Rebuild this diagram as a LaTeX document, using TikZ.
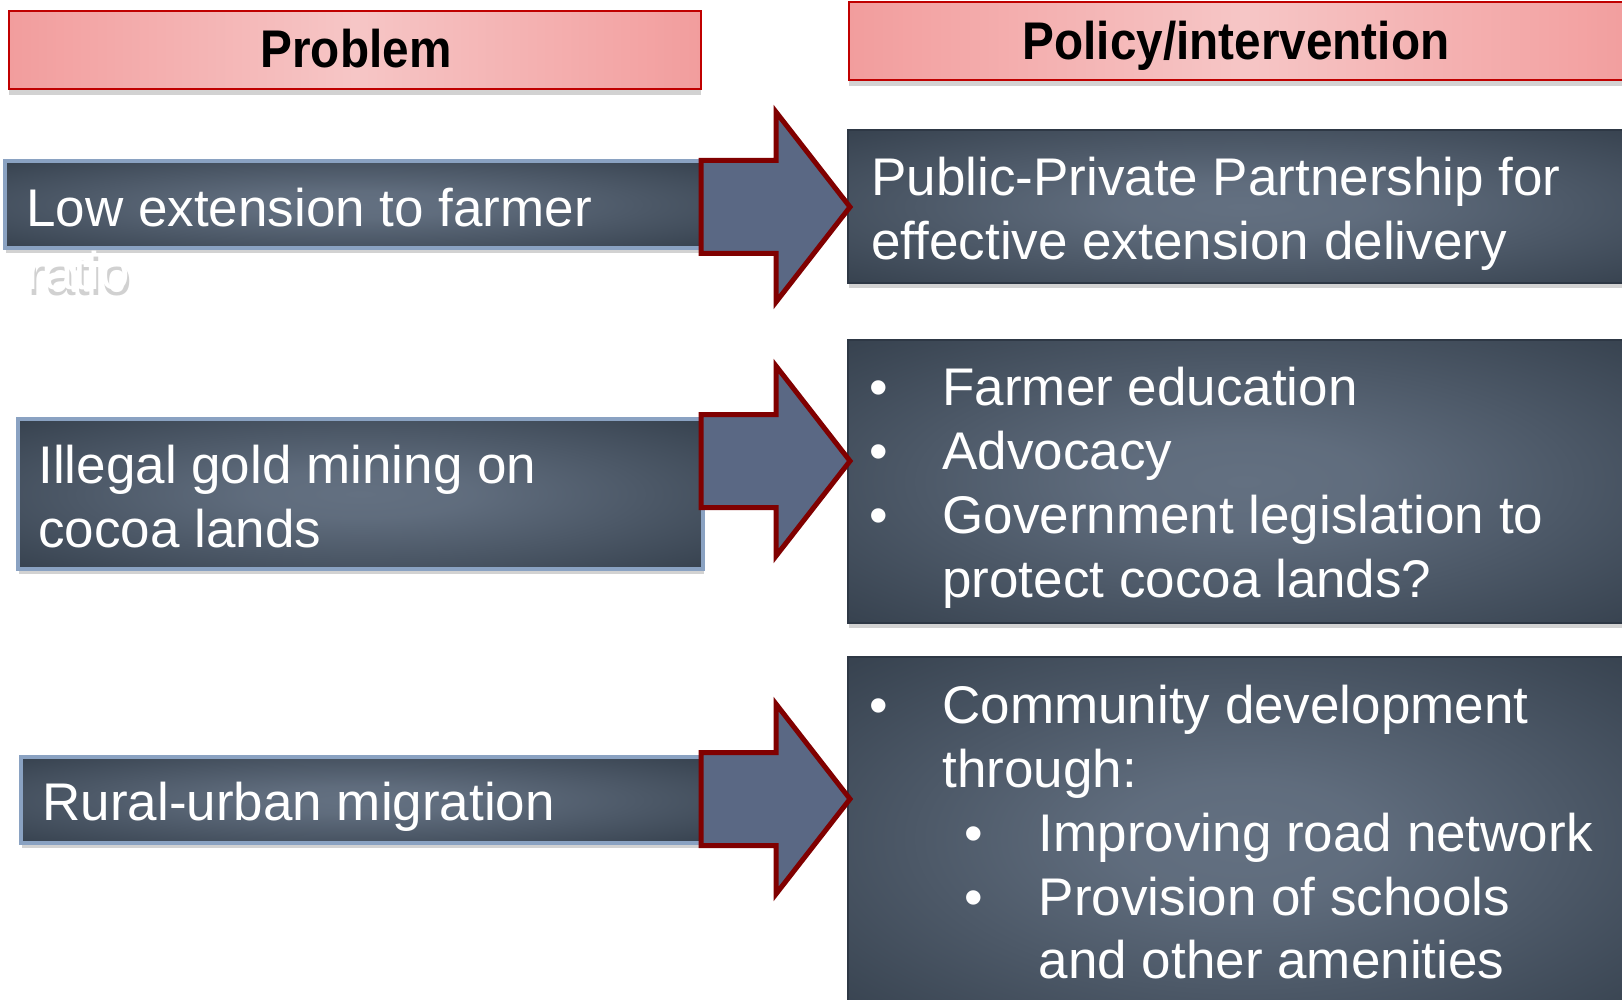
\documentclass[tikz,border=0pt]{standalone}
\usepackage{fontspec}
\setmainfont{Liberation Sans}
\usepackage{graphicx}
\usetikzlibrary{shadows}
\definecolor{boxout}{HTML}{36414E}
\definecolor{boxin}{HTML}{637081}
\definecolor{arrowfill}{HTML}{5A6884}
\definecolor{arrowline}{HTML}{800000}
\definecolor{hdedge}{HTML}{F29D9D}
\definecolor{hdmid}{HTML}{F6C6C6}
\definecolor{hdline}{HTML}{C00000}
\definecolor{bevel}{HTML}{8AA2C2}
\definecolor{rline}{HTML}{2E3845}
\pgfdeclareradialshading{boxshade}{\pgfpoint{0bp}{0bp}}{color(0bp)=(boxin); color(8bp)=(boxin!92!boxout); color(36bp)=(boxout); color(50bp)=(boxout)}
\begin{document}
\begin{tikzpicture}[x=0.5pt,y=-0.5pt,
  hdbox/.style={rectangle, inner sep=0pt, outer sep=0pt, draw=hdline, line width=1pt,
    left color=hdedge, right color=hdedge, middle color=hdmid,
    drop shadow={shadow xshift=0pt, shadow yshift=-3pt, opacity=0.35}},
  lbox/.style={rectangle, inner sep=0pt, outer sep=0pt, draw=bevel, line width=2pt,
    shading=boxshade,
    drop shadow={shadow xshift=0.5pt, shadow yshift=-2.5pt, opacity=0.35}},
  rbox/.style={rectangle, inner sep=0pt, outer sep=0pt, draw=rline, line width=1pt,
    shading=boxshade,
    drop shadow={shadow xshift=0.5pt, shadow yshift=-2.5pt, opacity=0.35}},
  hdtext/.style={text=black, inner sep=0pt, anchor=base, font=\fontsize{26.5}{30}\selectfont\bfseries},
  body/.style={text=white, inner sep=0pt, anchor=base west, font=\fontsize{26.5}{32}\selectfont},
  bul/.style={text=white, inner sep=0pt, anchor=base, font=\fontsize{26.5}{32}\selectfont},
  blockarrow/.style={fill=arrowfill, draw=arrowline, line width=2.5pt, line join=miter}
]
\useasboundingbox (0,0) rectangle (1622,1000);
\fill[white] (0,0) rectangle (1622,1000);
\clip (0,0) rectangle (1622,1000);

% headers
\node[hdbox, minimum width=346pt, minimum height=39pt] (hprob) at (355,50) {};
\node[hdtext] (hprobt) at (356,68) {\scalebox{0.9}[1]{Problem}};
\node[hdbox, minimum width=395.5pt, minimum height=39pt] (hpol) at (1244.5,41) {};
\node[hdtext] (hpolt) at (1236,60) {\scalebox{0.9}[1]{Policy/intervention}};

% left boxes
\node[lbox, minimum width=348pt, minimum height=43.5pt] (L1) at (353,204.5) {};
\node[lbox, minimum width=342.5pt, minimum height=75pt] (L2) at (360.5,494) {};
\node[lbox, minimum width=340pt, minimum height=43pt] (L3) at (361,800) {};

% right boxes
\node[rbox, minimum width=396pt, minimum height=76.5pt] (R1) at (1244,206.5) {};
\node[rbox, minimum width=396pt, minimum height=141.5pt] (R2) at (1244,481.5) {};
\node[rbox, minimum width=396pt, minimum height=181.5pt] (R3) at (1244,838.5) {};

% block arrows
\foreach \c/\n in {207/A1,461/A2,799/A3}{
  \draw[blockarrow] (701,\c-46.5) -- (776,\c-46.5) -- (776,\c-95) -- (850,\c)
    -- (776,\c+95) -- (776,\c+46.5) -- (701,\c+46.5) -- cycle;
}

% left texts
\node[body] (l1a) at (26,226.5) {Low extension to farmer};
\node[body, text=black, opacity=0.18] (l1bs) at (28,295) {ratio};
\node[body] (l1b) at (26,290) {ratio};
\node[body] (l2a) at (38,483) {Illegal gold mining on};
\node[body] (l2b) at (38,547) {cocoa lands};
\node[body] (l3a) at (42,820) {Rural-urban migration};

% right box 1
\node[body] (r1a) at (871,195.5) {Public-Private Partnership for};
\node[body] (r1b) at (871,259.6) {effective extension delivery};

% right box 2
\node[bul] (b21) at (879,405.5) {•};
\node[body] (r2a) at (942,405.5) {Farmer education};
\node[bul] (b22) at (879,469.6) {•};
\node[body] (r2b) at (942,469.6) {Advocacy};
\node[bul] (b23) at (879,533.8) {•};
\node[body] (r2c) at (942,533.8) {Government legislation to};
\node[body] (r2d) at (942,597) {protect cocoa lands?};

% right box 3
\node[bul] (b31) at (879,723) {•};
\node[body] (r3a) at (942,723) {Community development};
\node[body] (r3b) at (942,787) {through:};
\node[bul] (b32) at (974,851) {•};
\node[body] (r3c) at (1038.5,851) {Improving road network};
\node[bul] (b33) at (974,915.5) {•};
\node[body] (r3d) at (1038.5,915.5) {Provision of schools};
\node[body] (r3e) at (1038.5,978.6) {and other amenities};
\end{tikzpicture}
\end{document}
